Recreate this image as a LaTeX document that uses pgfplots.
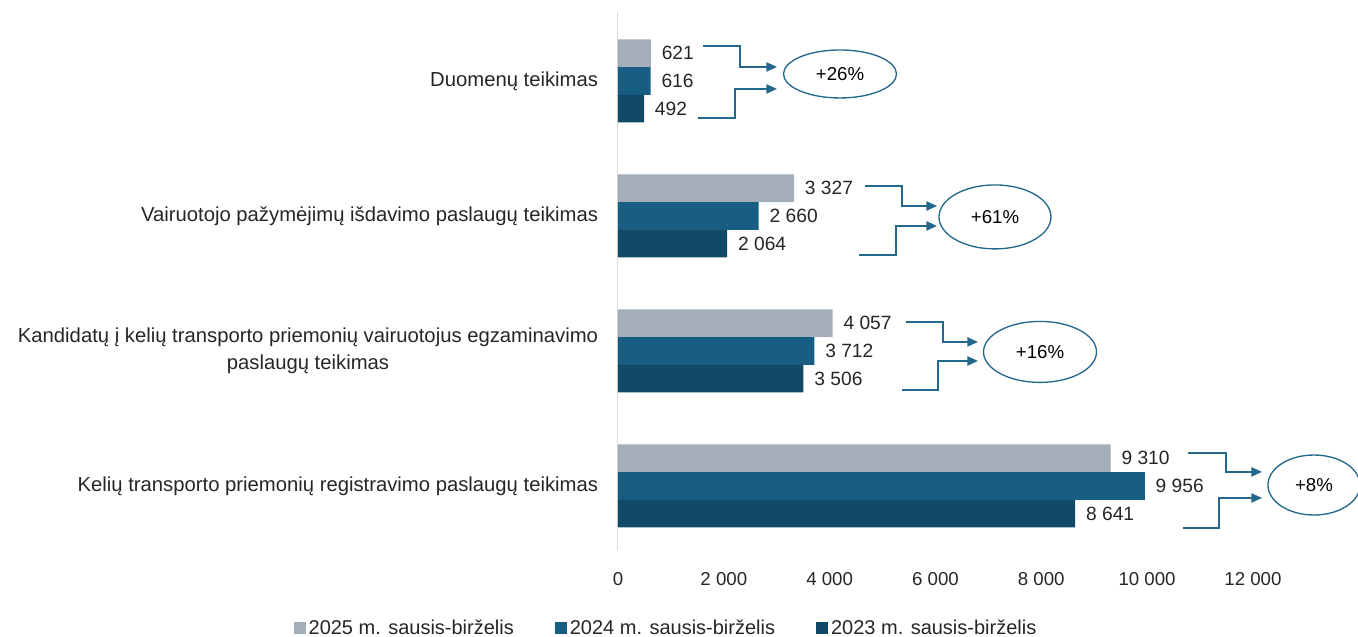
\documentclass[border=0pt]{standalone}
\usepackage{fontspec}
\setmainfont{Liberation Sans}
\usepackage{xcolor}
\usepackage{pgfplots}
\pgfplotsset{compat=1.18}
\usetikzlibrary{arrows.meta, shapes.geometric}
\definecolor{c2025}{RGB}{163,174,185}
\definecolor{c2024}{RGB}{23,94,130}
\definecolor{c2023}{RGB}{16,74,102}
\definecolor{arrcol}{RGB}{36,104,140}
\definecolor{axisgray}{RGB}{217,217,217}
\definecolor{txt}{RGB}{38,38,38}

\begin{document}
\begin{tikzpicture}[
    arr/.style={draw=arrcol, line width=1.1pt, -{Triangle[length=8pt,width=7pt]}},
    pct/.style={draw=arrcol, line width=1pt, ellipse, inner sep=0pt, text=black,
        font=\fontsize{14}{16}\selectfont},
]
\begin{axis}[
    scale only axis,
    width=476.25pt, height=403.5pt,
    xmin=0, xmax=12000,
    ymin=-0.474, ymax=3.511,
    xbar, bar width=0.205,
    axis y line*=left, axis x line*=bottom,
    axis line style={-},
    y axis line style={draw=axisgray, line width=0.75pt},
    x axis line style={draw=none},
    tick style={draw=none},
    xtick={0,2000,...,12000},
    scaled x ticks=false,
    ytick={0,1,2,3},
    yticklabels={Kelių transporto priemonių registravimo paslaugų teikimas,
        {Kandidatų į kelių transporto priemonių vairuotojus egzaminavimo\\paslaugų teikimas},
        Vairuotojo pažymėjimų išdavimo paslaugų teikimas,
        Duomenų teikimas},
    yticklabel style={align=center, inner sep=0pt, xshift=-10.5pt, text=txt,
        font=\fontsize{15.2}{20}\selectfont},
    xticklabel style={anchor=center, inner sep=0pt, yshift=-22pt, text=txt,
        font=\fontsize{14}{16}\selectfont},
    /pgf/number format/.cd, 1000 sep={\ }, assume math mode=true, /pgfplots/.cd,
    point meta=x,
    nodes near coords,
    every node near coord/.append style={anchor=west, inner sep=0pt, xshift=8pt,
        text=txt, font=\fontsize{14.4}{16}\selectfont},
    legend style={at={(axis description cs:0.0764,-0.145)}, anchor=center,
        draw=none, legend columns=3, text=txt,
        font=\fontsize{15}{18}\selectfont,
        /tikz/every even column/.append style={column sep=29pt}},
    clip=false,
]
\addplot[fill=c2025, draw=none, bar shift=0.205,
    legend image code/.code={\fill[c2025] (0pt,-4.5pt) rectangle (9pt,4.5pt);}]
    coordinates {(9310,0) (4057,1) (3327,2) (621,3)};
\addlegendentry{2025 m. sausis-birželis}
\addplot[fill=c2024, draw=none, bar shift=0,
    legend image code/.code={\fill[c2024] (0pt,-4.5pt) rectangle (9pt,4.5pt);}]
    coordinates {(9956,0) (3712,1) (2660,2) (616,3)};
\addlegendentry{2024 m. sausis-birželis}
\addplot[fill=c2023, draw=none, bar shift=-0.205,
    legend image code/.code={\fill[c2023] (0pt,-4.5pt) rectangle (9pt,4.5pt);}]
    coordinates {(8641,0) (3506,1) (2064,2) (492,3)};
\addlegendentry{2023 m. sausis-birželis}

% Duomenų teikimas
\draw[arr] (axis cs:1606,3.259) -| (axis cs:2306,3.104) -- (axis cs:3005,3.104);
\draw[arr] (axis cs:1512,2.726) -| (axis cs:2211,2.941) -- (axis cs:3005,2.941);
\node[pct, minimum width=84.75pt, minimum height=36pt] at (axis cs:4196,3.052) {+26\%};
% Vairuotojo pažymėjimų
\draw[arr] (axis cs:4668,2.222) -| (axis cs:5368,2.074) -- (axis cs:6029,2.074);
\draw[arr] (axis cs:4555,1.711) -| (axis cs:5254,1.926) -- (axis cs:6029,1.926);
\node[pct, minimum width=84pt, minimum height=48pt] at (axis cs:7125,1.993) {+61\%};
% Kandidatų egzaminavimas
\draw[arr] (axis cs:5443,1.215) -| (axis cs:6143,1.067) -- (axis cs:6804,1.067);
\draw[arr] (axis cs:5368,0.711) -| (axis cs:6048,0.926) -- (axis cs:6804,0.926);
\node[pct, minimum width=84.75pt, minimum height=45.75pt] at (axis cs:7976,0.993) {+16\%};
% Kelių transporto priemonių registravimas
\draw[arr] (axis cs:10773,0.244) -| (axis cs:11491,0.104) -- (axis cs:12172,0.104);
\draw[arr] (axis cs:10679,-0.311) -| (axis cs:11359,-0.089) -- (axis cs:12172,-0.089);
\node[pct, minimum width=69pt, minimum height=45pt] at (axis cs:13154,0.007) {+8\%};

\coordinate (bbsw) at (axis cs:-11680,-1.1185);
\coordinate (bbne) at (axis cs:13986,3.6);
\end{axis}
\pgfresetboundingbox
\path[use as bounding box] (bbsw) rectangle (bbne);
\end{tikzpicture}
\end{document}
